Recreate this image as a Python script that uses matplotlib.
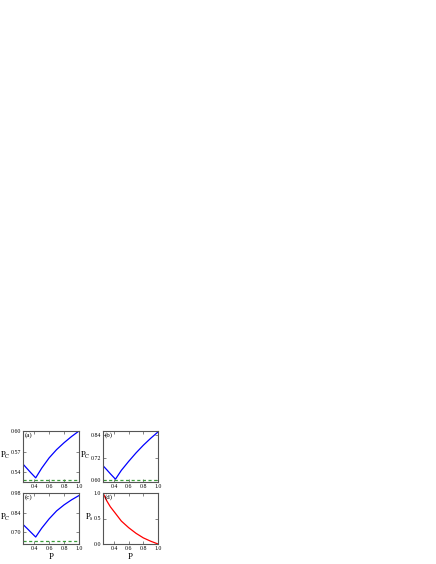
import matplotlib
matplotlib.use("Agg")
import matplotlib.pyplot as plt

plt.rcParams['font.family'] = ['Liberation Serif', 'DejaVu Serif']
plt.rcParams['mathtext.fontset'] = 'stix'

p = [0.25, 0.30, 0.35, 0.42, 0.50, 0.60, 0.70, 0.80, 0.90, 1.00]

pc_a = [0.552, 0.546, 0.540, 0.532, 0.546, 0.561, 0.573, 0.583, 0.592, 0.600]
pc_b = [0.677, 0.656, 0.634, 0.605, 0.652, 0.700, 0.745, 0.786, 0.823, 0.857]
pc_c = [0.755, 0.729, 0.702, 0.665, 0.728, 0.795, 0.852, 0.895, 0.931, 0.962]
ps_d = [1.00, 0.85, 0.73, 0.60, 0.45, 0.32, 0.21, 0.12, 0.055, 0.00]

base_a = 0.529
base_b = 0.600
base_c = 0.640

yticks_a = [0.54, 0.57, 0.60]
yticks_b = [0.60, 0.72, 0.84]
yticks_c = [0.70, 0.84, 0.98]
yticks_d = [0.0, 0.5, 1.0]
xticks = [0.4, 0.6, 0.8, 1.0]

W, H = 436, 564
fig = plt.figure(figsize=(W / 100, H / 100), dpi=100)

def box(l, r, t, b):
    return [l / W, 1 - b / H, (r - l) / W, (b - t) / H]

panels = [
    (box(23, 79, 431, 482), p, pc_a, base_a, (0.526, 0.600), yticks_a, '(a)', r'$\mathrm{P}_{\mathrm{C}}$', 'blue', False),
    (box(103, 158, 431, 482), p, pc_b, base_b, (0.59, 0.862), yticks_b, '(b)', r'$\mathrm{P}_{\mathrm{C}}$', 'blue', False),
    (box(23, 79, 493, 544), p, pc_c, base_c, (0.615, 0.98), yticks_c, '(c)', r'$\mathrm{P}_{\mathrm{C}}$', 'blue', True),
    (box(103, 158, 493, 544), p, ps_d, None, (0.0, 1.0), yticks_d, '(d)', r'$\mathrm{P}_{\mathrm{s}}$', 'red', True),
]

for rect, x, y, base, ylim, yt, lab, ylab, col, showx in panels:
    ax = fig.add_axes(rect)
    ax.plot(x, y, color=col, lw=0.9)
    if base is not None:
        ax.axhline(base, color='#3a9a3a', lw=0.9, ls=(0, (2.5, 2)))
    ax.set_xlim(0.25, 1.0)
    ax.set_ylim(*ylim)
    ax.set_xticks(xticks)
    ax.set_xticklabels(['0.4', '0.6', '0.8', '1.0'])
    ax.set_yticks(yt)
    ax.set_yticklabels(['%.2f' % v if lab != '(d)' else '%.1f' % v for v in yt])
    ax.tick_params(direction='in', length=2, width=0.5, labelsize=4.2, pad=1.2,
                   top=True, right=True, color='#555555')
    for s in ax.spines.values():
        s.set_color('#555555')
        s.set_linewidth(0.8)
    ax.text(0.03, 0.97, lab, transform=ax.transAxes, fontsize=5, va='top', ha='left')
    ax.set_ylabel(ylab, fontsize=6, rotation=0, va='center', ha='right')
    ax.yaxis.set_label_coords(-0.22 if lab != '(d)' else -0.16, 0.52)
    if showx:
        ax.set_xlabel('P', fontsize=6.5, labelpad=2)

fig.savefig('out.png', dpi=100)
